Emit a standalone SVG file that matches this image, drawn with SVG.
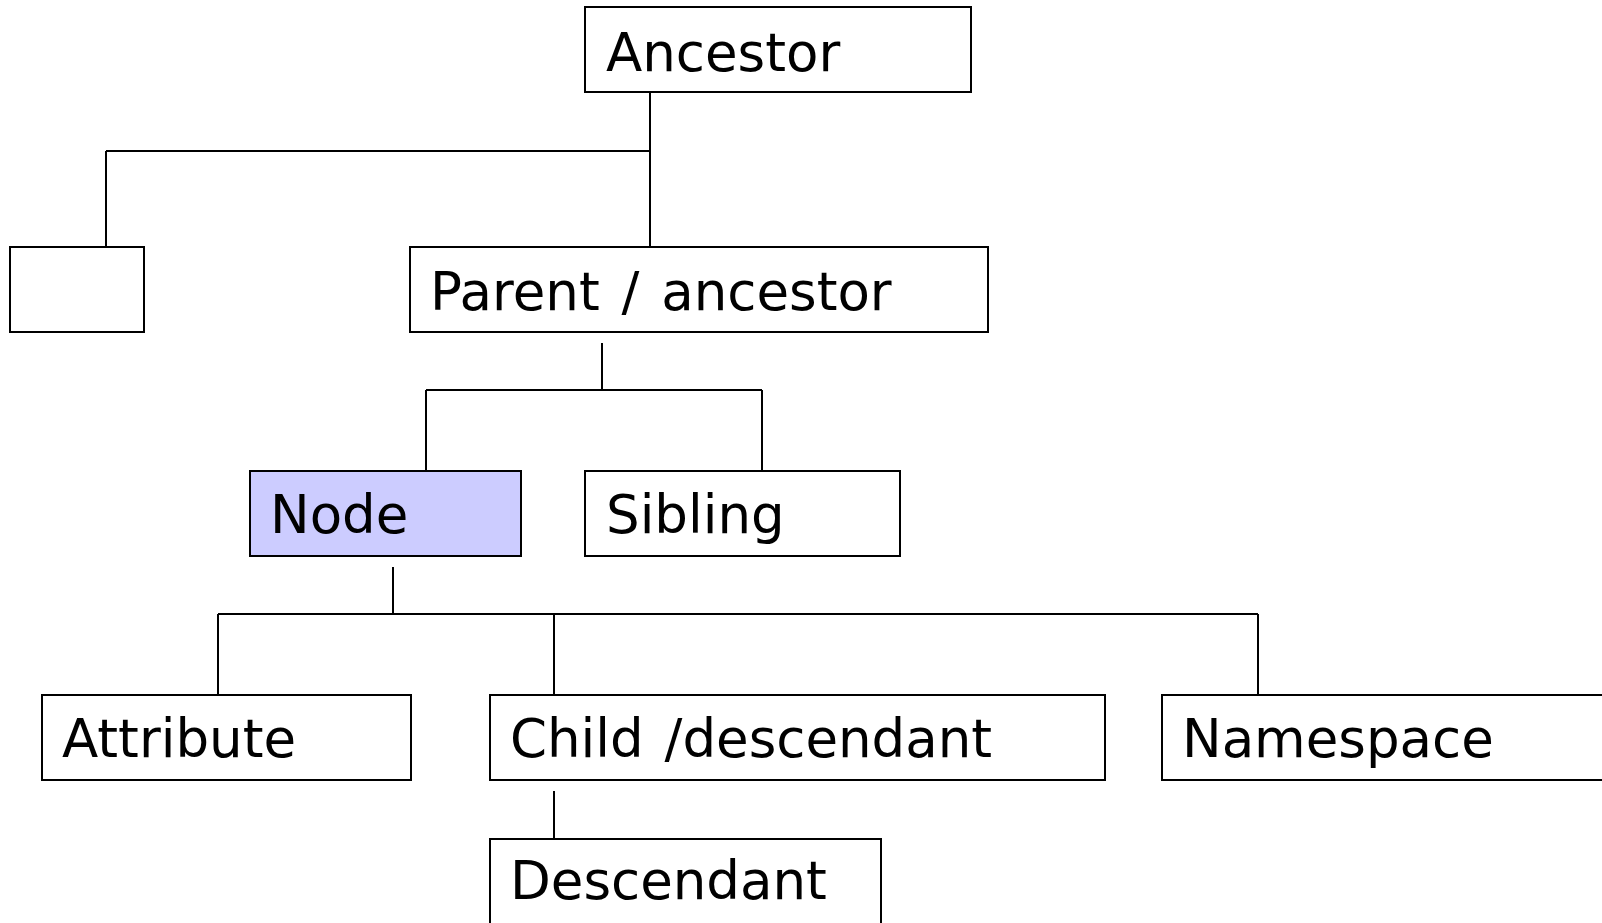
<svg xmlns="http://www.w3.org/2000/svg" width="1602" height="923" viewBox="0 0 1602 923">
<style>
.box{fill:#ffffff;stroke:#000000;stroke-width:2}
.hl{fill:#ccccff}
.lbl{font-family:"DejaVu Sans",Verdana,sans-serif;font-size:53px;fill:#000000}
.conn line{stroke:#000000;stroke-width:2}
</style>
<rect width="1602" height="923" fill="#ffffff"/>
<g id="connectors" class="conn">
<line x1="650" y1="87" x2="650" y2="246"/>
<line x1="106" y1="151" x2="650" y2="151"/>
<line x1="106" y1="151" x2="106" y2="246"/>
<line x1="602" y1="343" x2="602" y2="390"/>
<line x1="426" y1="390" x2="762" y2="390"/>
<line x1="426" y1="390" x2="426" y2="471"/>
<line x1="762" y1="390" x2="762" y2="471"/>
<line x1="393" y1="567" x2="393" y2="614"/>
<line x1="218" y1="614" x2="1258" y2="614"/>
<line x1="218" y1="614" x2="218" y2="695"/>
<line x1="554" y1="614" x2="554" y2="695"/>
<line x1="1258" y1="614" x2="1258" y2="695"/>
<line x1="554" y1="791" x2="554" y2="839"/>
</g>
<g id="ancestor">
<rect class="box" x="585" y="7" width="386" height="85"/>
<text class="lbl" x="606" y="71">Ancestor</text>
</g>
<g id="empty">
<rect class="box" x="10" y="247" width="134" height="85"/>
</g>
<g id="parent">
<rect class="box" x="410" y="247" width="578" height="85"/>
<text class="lbl" x="430" y="310" word-spacing="5">Parent / ancestor</text>
</g>
<g id="node">
<rect class="box hl" x="250" y="471" width="271" height="85"/>
<text class="lbl" x="270" y="533">Node</text>
</g>
<g id="sibling">
<rect class="box" x="585" y="471" width="315" height="85"/>
<text class="lbl" x="606" y="533">Sibling</text>
</g>
<g id="attribute">
<rect class="box" x="42" y="695" width="369" height="85"/>
<text class="lbl" x="62" y="757">Attribute</text>
</g>
<g id="child">
<rect class="box" x="490" y="695" width="615" height="85"/>
<text class="lbl" x="510" y="757" word-spacing="4">Child /descendant</text>
</g>
<g id="namespace">
<rect class="box" x="1162" y="695" width="460" height="85"/>
<text class="lbl" x="1182" y="757">Namespace</text>
</g>
<g id="descendant">
<rect class="box" x="490" y="839" width="391" height="100"/>
<text class="lbl" x="510" y="899">Descendant</text>
</g>
</svg>
